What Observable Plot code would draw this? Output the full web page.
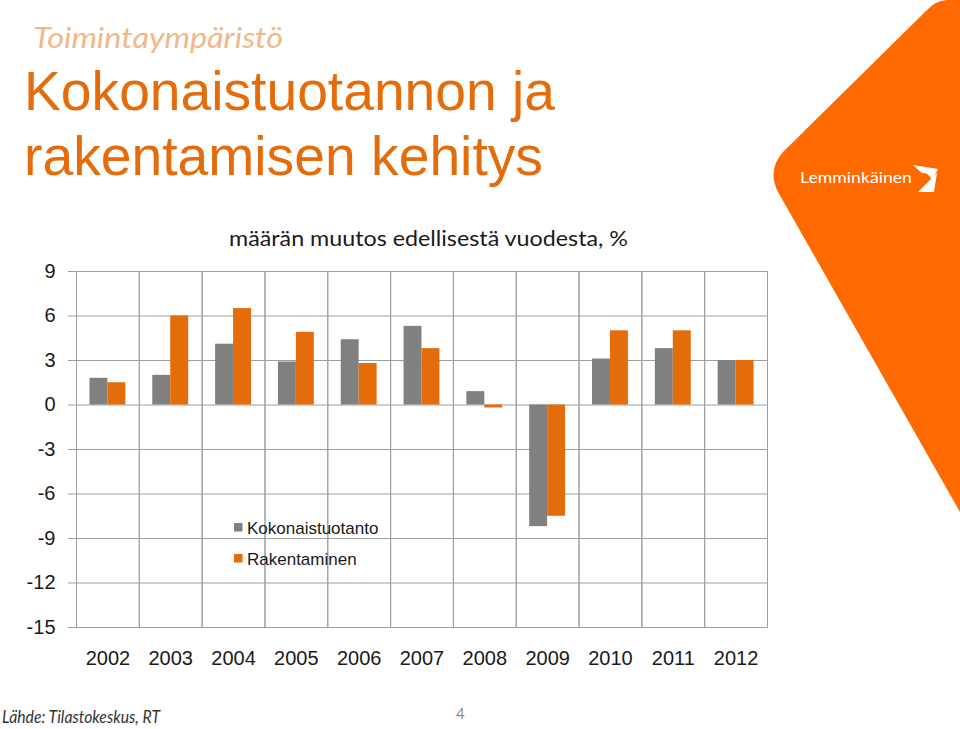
<!DOCTYPE html>
<html>
<head>
<meta charset="utf-8">
<script src="https://cdn.jsdelivr.net/npm/d3@7"></script>
<script src="https://cdn.jsdelivr.net/npm/@observablehq/plot@0.6"></script>
<style>
  html, body { margin: 0; padding: 0; background: #fff; }
  #page { position: relative; width: 960px; height: 729px; overflow: hidden; background: #fff; }
  #deco, #chart, #over { position: absolute; left: 0; top: 0; }
  #chart svg { display: block; }
</style>
</head>
<body>
<div id="page">
  <svg id="deco" width="960" height="729" viewBox="0 0 960 729">
    <path d="M960,0 L948,0 Q936,0 926,11 L783,152 Q767,170 778,192 L960,512 Z" fill="#ff6a00"/>
    <text x="800" y="183" fill="#fff" font-family="Lato, 'Open Sans', sans-serif" font-size="16" textLength="112" lengthAdjust="spacingAndGlyphs">Lemminkäinen</text>
    <path d="M913,165 L938,169 L932,181 Q929,172 922,173 Q918,170 913,165 Z" fill="#fff"/>
    <path d="M918,192 L937,173 L934,192 Z" fill="#fff"/>
  </svg>
  <div id="chart"></div>
  <svg id="over" width="960" height="729" viewBox="0 0 960 729" pointer-events="none">
    <text x="33" y="48" fill="#f1b88a" font-family="Lato, 'Open Sans', sans-serif" font-style="italic" font-size="28" textLength="250" lengthAdjust="spacingAndGlyphs">Toimintaympäristö</text>
    <text x="24" y="110" fill="#e46c0a" font-family="'Liberation Sans', Arial, sans-serif" font-size="55" textLength="531" lengthAdjust="spacingAndGlyphs">Kokonaistuotannon ja</text>
    <text x="24" y="175" fill="#e46c0a" font-family="'Liberation Sans', Arial, sans-serif" font-size="55" textLength="519" lengthAdjust="spacingAndGlyphs">rakentamisen kehitys</text>
    <text x="229" y="246" fill="#1a1a1a" font-family="Lato, 'Open Sans', sans-serif" font-size="22" textLength="399" lengthAdjust="spacingAndGlyphs">määrän muutos edellisestä vuodesta, %</text>
    <g id="legend"></g>
    <text x="2" y="723" fill="#333" font-family="Lato, 'Open Sans', sans-serif" font-style="italic" font-size="16.5" textLength="158" lengthAdjust="spacingAndGlyphs">Lähde: Tilastokeskus, RT</text>
    <text x="456" y="719" fill="#8c8c8c" font-family="Lato, 'Open Sans', sans-serif" font-size="15">4</text>
  </svg>
</div>
<script>
// ---- data ----
const years = ["2002","2003","2004","2005","2006","2007","2008","2009","2010","2011","2012"];
const kokonaistuotanto = [1.8, 2.0, 4.1, 2.9, 4.4, 5.3, 0.9, -8.2, 3.1, 3.8, 3.0];
const rakentaminen = [1.5, 6.0, 6.5, 4.9, 2.8, 3.8, -0.2, -7.5, 5.0, 5.0, 3.0];
const seriesNames = ["Kokonaistuotanto", "Rakentaminen"];
const seriesColors = ["#808080", "#e46c0a"];
const yTicks = [-15, -12, -9, -6, -3, 0, 3, 6, 9];

const rows = years.flatMap((yr, i) => [
  {year: yr, series: seriesNames[0], value: kokonaistuotanto[i]},
  {year: yr, series: seriesNames[1], value: rakentaminen[i]}
]);

const gridColor = "#9e9e9e";

const chart = Plot.plot({
  width: 960,
  height: 729,
  marginLeft: 76,
  marginRight: 193,
  marginTop: 271,
  marginBottom: 102,
  style: {background: "transparent", fontFamily: "'Liberation Sans', Arial, sans-serif", fontSize: "20px", color: "#1a1a1a"},
  fx: {domain: years, padding: 0, round: false, label: null},
  x: {domain: seriesNames, paddingInner: 0, paddingOuter: 0.75, round: false, axis: null},
  y: {domain: [-15, 9], label: null},
  color: {domain: seriesNames, range: seriesColors},
  marks: [
    Plot.gridY(yTicks, {stroke: gridColor, strokeOpacity: 1}),
    Plot.frame({stroke: gridColor}),
    Plot.axisY(yTicks, {tickSize: 8, tickPadding: 13, stroke: gridColor, fill: "#1a1a1a", fontSize: 20, label: null, tickFormat: d => String(d)}),
    Plot.axisFx({anchor: "bottom", tickSize: 0, tickPadding: 23, fontSize: 20, fill: "#1a1a1a", label: null}),
    Plot.barY(rows, {fx: "year", x: "series", y: "value", fill: "series"})
  ]
});
document.getElementById("chart").appendChild(chart);

// ---- legend (inside plot area) ----
const ns = "http://www.w3.org/2000/svg";
const lg = document.getElementById("legend");
const legendTop = [523, 554];
seriesNames.forEach((name, i) => {
  const r = document.createElementNS(ns, "rect");
  r.setAttribute("x", 234); r.setAttribute("y", legendTop[i]);
  r.setAttribute("width", 8.5); r.setAttribute("height", 8.5);
  r.setAttribute("fill", seriesColors[i]);
  lg.appendChild(r);
  const t = document.createElementNS(ns, "text");
  t.setAttribute("x", 247); t.setAttribute("y", legendTop[i] + 10.5);
  t.setAttribute("font-family", "'Liberation Sans', Arial, sans-serif");
  t.setAttribute("font-size", 17);
  t.setAttribute("fill", "#1a1a1a");
  t.textContent = name;
  lg.appendChild(t);
});
</script>
</body>
</html>
